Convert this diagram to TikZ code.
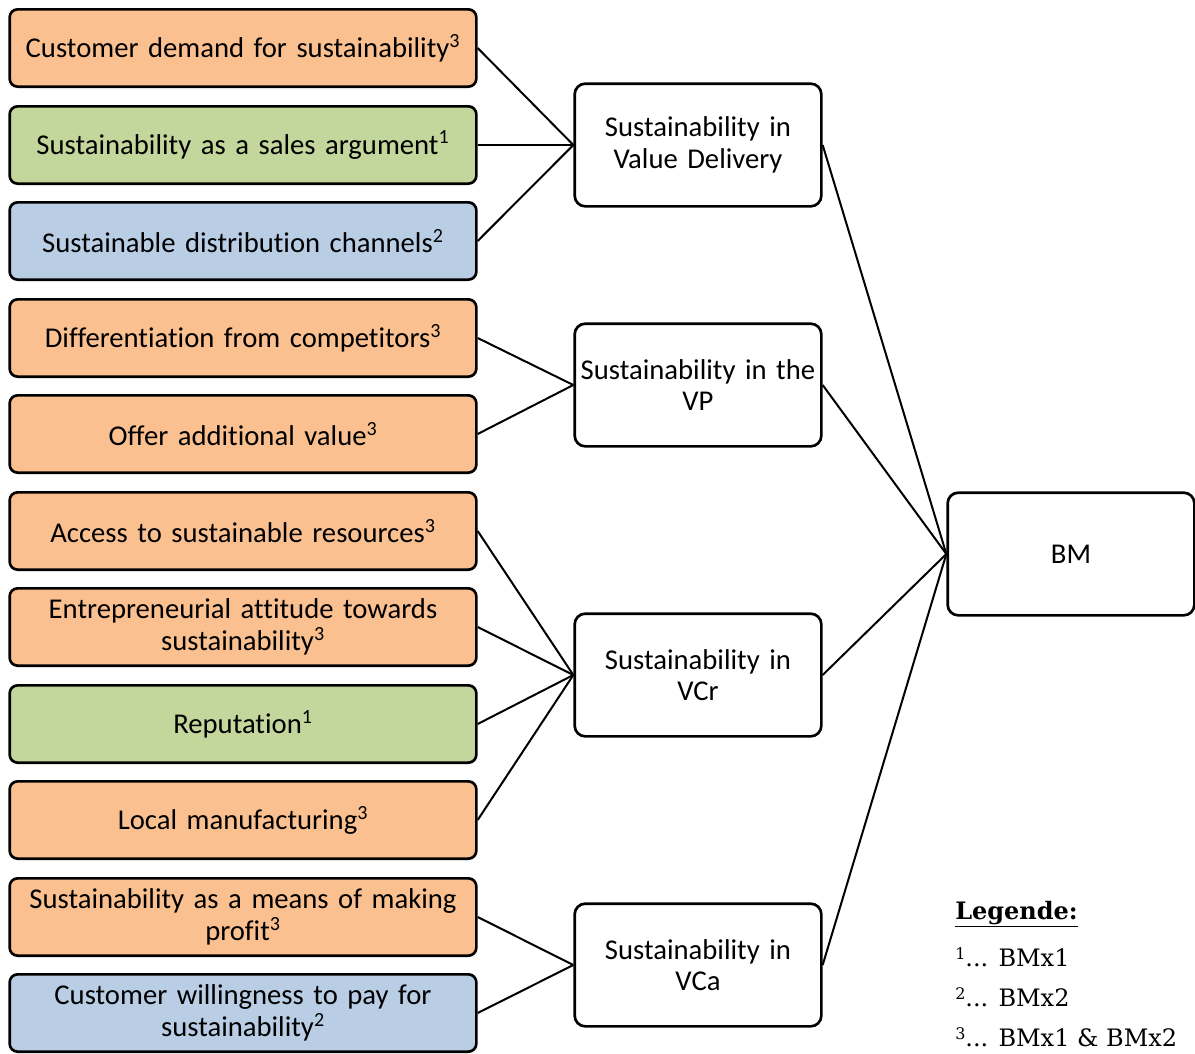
\documentclass[tikz,border=0pt]{standalone}
\usepackage{fontspec}
\setmainfont[RawFeature=-liga]{Carlito}
\newfontfamily\legendfont{DejaVu Serif}
\definecolor{boxorange}{HTML}{FAC090}
\definecolor{boxgreen}{HTML}{C3D69B}
\definecolor{boxblue}{HTML}{B9CDE5}
\newcommand{\legsup}[1]{\raisebox{0.28em}{\fontsize{12}{12}\selectfont #1}}
\newcommand{\boxfont}{\fontsize{21.5}{23.5}\selectfont\spaceskip=0.19em plus 0.05em}
\begin{document}
\begin{tikzpicture}[x=0.75pt,y=-0.75pt,
  factor/.style={draw=black, line width=2pt, rounded corners=6pt,
    minimum width=350pt, minimum height=58pt, text width=348pt,
    align=center, inner sep=0pt, font=\boxfont},
  orangebox/.style={factor, fill=boxorange},
  greenbox/.style={factor, fill=boxgreen},
  bluebox/.style={factor, fill=boxblue},
  dimbox/.style={draw=black, line width=2pt, rounded corners=8pt, fill=white,
    minimum width=185pt, minimum height=92pt, text width=183pt,
    align=center, inner sep=0pt, font=\boxfont},
  link/.style={line width=1.5pt},
  legend/.style={anchor=base west, inner sep=0pt,
    font=\legendfont\fontsize{18}{22}\selectfont}]
\useasboundingbox (0,0) rectangle (1195,1053);

% factor boxes (left column)
\node[orangebox] (f1)  at (243,48)   {Customer demand for sustainability\textsuperscript{3}};
\node[greenbox]  (f2)  at (243,145)  {Sustainability as a sales argument\textsuperscript{1}};
\node[bluebox]   (f3)  at (243,241)  {Sustainable distribution channels\textsuperscript{2}};
\node[orangebox] (f4)  at (243,338)  {Differentiation from competitors\textsuperscript{3}};
\node[orangebox] (f5)  at (243,434)  {Offer additional value\textsuperscript{3}};
\node[orangebox] (f6)  at (243,531)  {Access to sustainable resources\textsuperscript{3}};
\node[orangebox] (f7)  at (243,627)  {Entrepreneurial attitude towards\\sustainability\textsuperscript{3}};
\node[greenbox]  (f8)  at (243,724)  {Reputation\textsuperscript{1}};
\node[orangebox] (f9)  at (243,820)  {Local manufacturing\textsuperscript{3}};
\node[orangebox] (f10) at (243,917)  {Sustainability as a means of making\\profit\textsuperscript{3}};
\node[bluebox]   (f11) at (243,1013) {Customer willingness to pay for\\sustainability\textsuperscript{2}};

% business model dimensions (middle column)
\node[dimbox] (vd)  at (698,145) {Sustainability in\\Value Delivery};
\node[dimbox] (vp)  at (698,385) {Sustainability in the\\VP};
\node[dimbox] (vcr) at (698,675) {Sustainability in\\VCr};
\node[dimbox] (vca) at (698,965) {Sustainability in\\VCa};

% business model
\node[dimbox] (bm) at (1071,554) {BM};

% connectors
\foreach \f in {f1,f2,f3} \draw[link] (\f.east) -- (vd.west);
\foreach \f in {f4,f5} \draw[link] (\f.east) -- (vp.west);
\foreach \f in {f6,f7,f8,f9} \draw[link] (\f.east) -- (vcr.west);
\foreach \f in {f10,f11} \draw[link] (\f.east) -- (vca.west);
\foreach \d in {vd,vp,vcr,vca} \draw[link] (\d.east) -- (bm.west);

% legend
\node[legend] (lgtitle) at (955,919) {\textbf{\underline{Legende:}}};
\node[legend] (lg1) at (955,966) {\legsup{1}... BMx1};
\node[legend] (lg2) at (955,1006) {\legsup{2}... BMx2};
\node[legend] (lg3) at (955,1046) {\legsup{3}... BMx1 \& BMx2};
\end{tikzpicture}
\end{document}
